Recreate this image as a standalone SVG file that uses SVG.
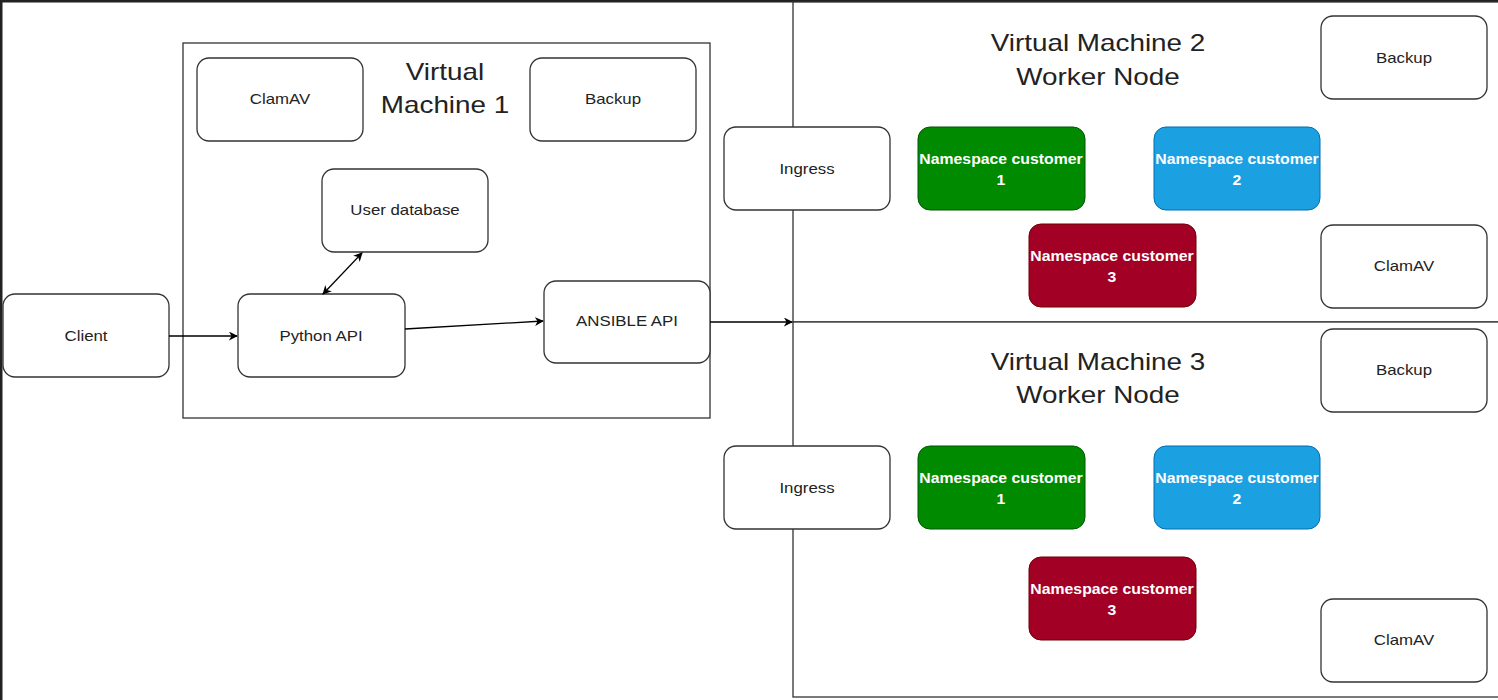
<svg xmlns="http://www.w3.org/2000/svg" width="1498" height="700" viewBox="0 0 1498 700">
<style>
.box{fill:#fff;stroke:#333;stroke-width:1.3}
.frame{fill:#fff;stroke:#333;stroke-width:1.3}
.t{font-family:"Liberation Sans",Arial,sans-serif;font-size:14.5px;fill:#222;text-anchor:middle}
.title{font-family:"Liberation Sans",Arial,sans-serif;font-size:24px;fill:#222;text-anchor:middle}
.ns{font-family:"Liberation Sans",Arial,sans-serif;font-size:14px;font-weight:bold;fill:#fff;text-anchor:middle}
.c{stroke:#000;stroke-width:1.3;fill:none}
</style>
<defs>
<marker id="ah" viewBox="0 0 10 10" refX="9" refY="5" markerWidth="9" markerHeight="9" markerUnits="userSpaceOnUse" orient="auto-start-reverse">
<path d="M0,0 L10,5 L0,10 L3,5 Z" fill="#000"/>
</marker>
</defs>
<rect x="0" y="0" width="1498" height="700" fill="#fff"/>
<rect x="0" y="0" width="1498" height="2.5" fill="#222"/>
<rect x="0" y="0" width="2.5" height="700" fill="#222"/>

<g id="vm1">
<rect class="frame" x="183" y="43" width="527" height="375"/>
<text class="title" transform="translate(445,80) scale(1.16,1)">Virtual</text>
<text class="title" transform="translate(445,113) scale(1.16,1)">Machine 1</text>
</g>
<g id="vm2">
<rect class="frame" x="793" y="2" width="710" height="320"/>
<text class="title" transform="translate(1098,51) scale(1.16,1)">Virtual Machine 2</text>
<text class="title" transform="translate(1098,85) scale(1.16,1)">Worker Node</text>
</g>
<g id="vm3">
<rect class="frame" x="793" y="322" width="710" height="375"/>
<text class="title" transform="translate(1098,370) scale(1.16,1)">Virtual Machine 3</text>
<text class="title" transform="translate(1098,403) scale(1.16,1)">Worker Node</text>
</g>

<g id="clamav1"><rect class="box" x="197" y="58" width="166" height="83" rx="12"/><text class="t" transform="translate(280,104) scale(1.16,1)">ClamAV</text></g>
<g id="backup1"><rect class="box" x="530" y="58" width="166" height="83" rx="12"/><text class="t" transform="translate(613,104) scale(1.16,1)">Backup</text></g>
<g id="userdb"><rect class="box" x="322" y="169" width="166" height="83" rx="12"/><text class="t" transform="translate(405,215) scale(1.16,1)">User database</text></g>
<g id="pythonapi"><rect class="box" x="238" y="294" width="167" height="83" rx="12"/><text class="t" transform="translate(321,341) scale(1.16,1)">Python API</text></g>
<g id="client"><rect class="box" x="3" y="294" width="166" height="83" rx="12"/><text class="t" transform="translate(86,341) scale(1.16,1)">Client</text></g>
<g id="ansible"><rect class="box" x="544" y="281" width="166" height="82" rx="12"/><text class="t" transform="translate(627,326) scale(1.16,1)">ANSIBLE API</text></g>

<g id="ingress2"><rect class="box" x="724" y="127" width="166" height="83" rx="12"/><text class="t" transform="translate(807,174) scale(1.16,1)">Ingress</text></g>
<g id="ns2-1"><rect x="918" y="127" width="167" height="83" rx="12" fill="#008a00" stroke="#005700" stroke-width="1"/><text class="ns" transform="translate(1001,164) scale(1.13,1)">Namespace customer</text><text class="ns" transform="translate(1001,185) scale(1.13,1)">1</text></g>
<g id="ns2-2"><rect x="1154" y="127" width="166" height="83" rx="12" fill="#1ba1e2" stroke="#006eaf" stroke-width="1"/><text class="ns" transform="translate(1237,164) scale(1.13,1)">Namespace customer</text><text class="ns" transform="translate(1237,185) scale(1.13,1)">2</text></g>
<g id="ns2-3"><rect x="1029" y="224" width="167" height="83" rx="12" fill="#a20025" stroke="#6f0000" stroke-width="1"/><text class="ns" transform="translate(1112,261) scale(1.13,1)">Namespace customer</text><text class="ns" transform="translate(1112,282) scale(1.13,1)">3</text></g>
<g id="backup2"><rect class="box" x="1321" y="16" width="166" height="83" rx="12"/><text class="t" transform="translate(1404,63) scale(1.16,1)">Backup</text></g>
<g id="clamav2"><rect class="box" x="1321" y="225" width="166" height="83" rx="12"/><text class="t" transform="translate(1404,271) scale(1.16,1)">ClamAV</text></g>

<g id="ingress3"><rect class="box" x="724" y="446" width="166" height="83" rx="12"/><text class="t" transform="translate(807,493) scale(1.16,1)">Ingress</text></g>
<g id="ns3-1"><rect x="918" y="446" width="167" height="83" rx="12" fill="#008a00" stroke="#005700" stroke-width="1"/><text class="ns" transform="translate(1001,483) scale(1.13,1)">Namespace customer</text><text class="ns" transform="translate(1001,504) scale(1.13,1)">1</text></g>
<g id="ns3-2"><rect x="1154" y="446" width="166" height="83" rx="12" fill="#1ba1e2" stroke="#006eaf" stroke-width="1"/><text class="ns" transform="translate(1237,483) scale(1.13,1)">Namespace customer</text><text class="ns" transform="translate(1237,504) scale(1.13,1)">2</text></g>
<g id="ns3-3"><rect x="1029" y="557" width="167" height="83" rx="12" fill="#a20025" stroke="#6f0000" stroke-width="1"/><text class="ns" transform="translate(1112,594) scale(1.13,1)">Namespace customer</text><text class="ns" transform="translate(1112,615) scale(1.13,1)">3</text></g>
<g id="backup3"><rect class="box" x="1321" y="329" width="166" height="83" rx="12"/><text class="t" transform="translate(1404,375) scale(1.16,1)">Backup</text></g>
<g id="clamav3"><rect class="box" x="1321" y="599" width="166" height="83" rx="12"/><text class="t" transform="translate(1404,645) scale(1.16,1)">ClamAV</text></g>

<g id="connectors">
<line class="c" x1="169" y1="336" x2="237" y2="336" marker-end="url(#ah)"/>
<line class="c" x1="405" y1="329" x2="543" y2="321" marker-end="url(#ah)"/>
<line class="c" x1="323" y1="294" x2="362" y2="253" marker-start="url(#ah)" marker-end="url(#ah)"/>
<line class="c" x1="710" y1="322" x2="792" y2="322" marker-end="url(#ah)"/>
</g>
</svg>
